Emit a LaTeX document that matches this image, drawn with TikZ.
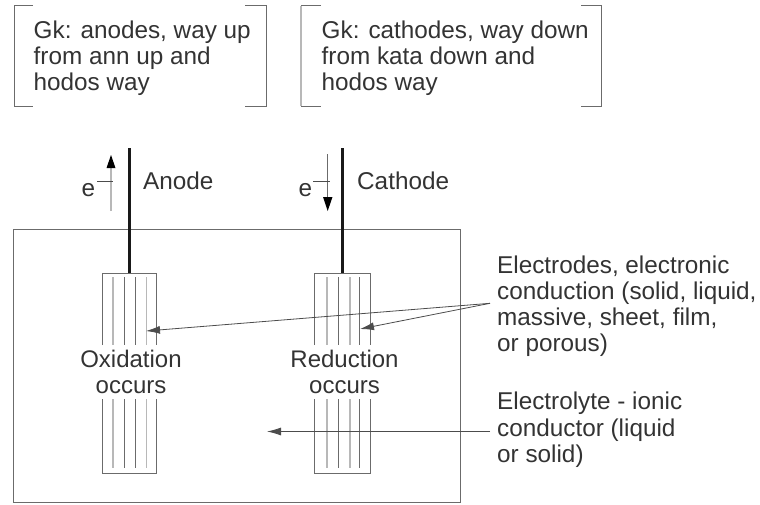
\documentclass[tikz,border=0pt]{standalone}
\usepackage{fontspec}
\setmainfont{Liberation Sans}
\usetikzlibrary{arrows.meta}
\definecolor{inkc}{gray}{0.2}
\definecolor{framec}{gray}{0.42}
\definecolor{palec}{gray}{0.72}
\tikzset{
  x=1pt,y=-1pt,
  lbl/.style={font=\fontsize{24.3}{26.2}\selectfont,text=inkc,inner sep=0pt,align=left,anchor=north west},
  clbl/.style={font=\fontsize{24}{26.2}\selectfont,text=inkc,inner sep=0pt,align=center,anchor=center},
  frame/.style={draw=framec,line width=1pt},
  bracketpale/.style={draw=palec,line width=1.6pt},
  dark/.style={draw=framec,line width=1pt},
  pale/.style={draw=palec,line width=1.6pt},
  wire/.style={draw=black!90,line width=3pt},
  lead/.style={draw=black!70,line width=0.8pt,-{Latex[length=14pt,width=8pt]}},
  tick/.style={draw=black!70,line width=0.8pt}
}
\begin{document}
\begin{tikzpicture}
\useasboundingbox (0,0) rectangle (760,504);
% brackets
\draw[frame] (33,5.5) -- (14,5.5) -- (14,106) -- (33,106);
\draw[frame] (245,5.5) -- (266,5.5) -- (266,106) -- (245,106);
\draw[frame] (321,5.5) -- (301,5.5);
\draw[bracketpale] (301,5.5) -- (301,106);
\draw[frame] (301,106) -- (321,106);
\draw[frame] (581,5.5) -- (601,5.5) -- (601,106) -- (581,106);
\node[lbl] (t1) at (33.5,20.5) {Gk: anodes, way up\\from ann up and\\hodos way};
\node[lbl] (t2) at (321.5,20.5) {Gk: cathodes, way down\\from kata down and\\hodos way};
% cell
\draw[frame] (13.5,229.5) rectangle (460,502.5);
% anode electrode
\draw[frame] (102,345) -- (102,273) -- (156,273) -- (156,345);
\draw[frame] (102,399) -- (102,473) -- (156,473) -- (156,399);
\foreach \x in {113,146.5}{\draw[pale] (\x,277) -- (\x,345); \draw[pale] (\x,399) -- (\x,468);}
\foreach \x in {124.7,135}{\draw[dark] (\x,277) -- (\x,345); \draw[dark] (\x,399) -- (\x,468);}
% cathode electrode
\draw[frame] (314,345) -- (314,273) -- (370,273) -- (370,345);
\draw[frame] (314,399) -- (314,473) -- (370,473) -- (370,399);
\foreach \x in {326.7,349.7}{\draw[pale] (\x,277) -- (\x,345); \draw[pale] (\x,399) -- (\x,468);}
\foreach \x in {338,359}{\draw[dark] (\x,277) -- (\x,345); \draw[dark] (\x,399) -- (\x,468);}
% wires
\coordinate (aw0) at (129,148); \coordinate (aw1) at (129,273);
\coordinate (cw0) at (342,148); \coordinate (cw1) at (342,273);
\draw[wire] (aw0) -- (aw1);
\draw[wire] (cw0) -- (cw1);
% electron arrows
\draw[draw=palec,line width=1.6pt] (111,211) -- (111,168);
\fill[black] (111,155) -- (115.5,168) -- (106.5,168) -- cycle;
\draw[tick] (97,181) -- (113,181);
\draw[draw=framec,line width=1pt] (327.7,154) -- (327.7,198);
\fill[black] (327.7,211) -- (323,197) -- (332.5,197) -- cycle;
\draw[tick] (313,181) -- (330,181);
\node[lbl,anchor=base] (e1) at (88.5,196) {e};
\node[lbl,anchor=base] (e2) at (305.5,196) {e};
\node[lbl,anchor=base west] (an) at (143,189) {Anode};
\node[lbl,anchor=base west] (ca) at (357,189) {Cathode};
% electrode captions
\node[clbl] (ox) at (131,372) {Oxidation\\occurs};
\node[clbl] (re) at (344.5,372) {Reduction\\occurs};
% right labels
\node[lbl] (el) at (497,255.5) {Electrodes, electronic\\conduction (solid, liquid,\\massive, sheet, film,\\or porous)};
\node[lbl] (ly) at (497,392) {Electrolyte - ionic\\conductor (liquid\\or solid)};
\coordinate (ha) at (146,331);
\coordinate (hc) at (360,329);
\coordinate (hl) at (267,431.5);
\coordinate (src) at (490,303.3);
\coordinate (srl) at (490,431.5);
\draw[lead] (src) -- (ha);
\draw[lead] (src) -- (hc);
\draw[lead] (srl) -- (hl);
\end{tikzpicture}
\end{document}
